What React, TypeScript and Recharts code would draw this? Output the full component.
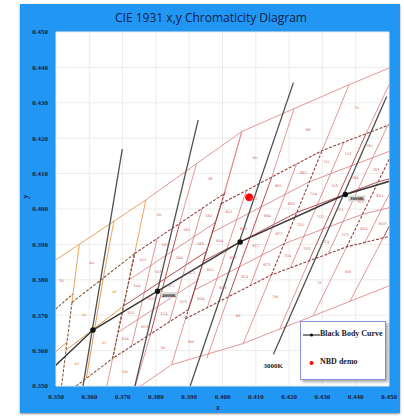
import React from 'react';
import { ComposedChart, Line, XAxis, YAxis, CartesianGrid, ReferenceDot, LabelList } from 'recharts';

type P = { x: number; y: number; name?: string };
const pts = (arr: number[][]): P[] => arr.map(([x, y]) => ({ x, y }));

const xTicks = [0.35, 0.36, 0.37, 0.38, 0.39, 0.4, 0.41, 0.42, 0.43, 0.44, 0.45];
const yTicks = [0.35, 0.36, 0.37, 0.38, 0.39, 0.4, 0.41, 0.42, 0.43, 0.44, 0.45];

// Planckian locus points (5000K, 4500K, 4000K, 3500K, 3000K, 2700K)
const blackBody = [[0.3451, 0.3516], [0.3611, 0.3658], [0.3805, 0.3768], [0.4053, 0.3907], [0.4369, 0.4041], [0.4599, 0.4106]];

// isotherm (CCT) lines
const isotherms = [
  [[0.3581, 0.35], [0.3699, 0.4169]],
  [[0.3737, 0.35], [0.3927, 0.4252]],
  [[0.3903, 0.35], [0.4213, 0.4357]],
  [[0.4153, 0.359], [0.4493, 0.4318]],
];

// ANSI quadrangle corners: bottom-left, bottom-right, top-left, top-right
const quad5000 = [[0.3366, 0.3369], [0.3515, 0.3487], [0.3376, 0.3616], [0.3551, 0.376]];
const quad4500 = [[0.3512, 0.3465], [0.367, 0.3578], [0.3548, 0.3736], [0.3736, 0.3874]];
const quad4000 = [[0.367, 0.3578], [0.3898, 0.3716], [0.3736, 0.3874], [0.4006, 0.4044]];
const quad3500 = [[0.3889, 0.369], [0.4147, 0.3814], [0.3996, 0.4015], [0.4299, 0.4165]];
const quad3000 = [[0.4147, 0.3814], [0.4373, 0.3893], [0.4299, 0.4165], [0.4562, 0.426]];
const quad2700 = [[0.4373, 0.3893], [0.4593, 0.3944], [0.4562, 0.426], [0.4813, 0.4319]];

// ANSI quadrangle outlines (3000K..4000K area)
const ansiRed = [
  [[0.3736, 0.3874], [0.4006, 0.4044], [0.3898, 0.3716], [0.367, 0.3578], [0.3736, 0.3874]],
  [[0.3996, 0.4015], [0.4299, 0.4165], [0.4562, 0.426], [0.4813, 0.4319]],
  [[0.3889, 0.369], [0.4147, 0.3814], [0.4373, 0.3893], [0.4593, 0.3944]],
  [[0.3889, 0.369], [0.3996, 0.4015]],
  [[0.4147, 0.3814], [0.4299, 0.4165]],
  [[0.4373, 0.3893], [0.4562, 0.426]],
];
// ANSI quadrangle outlines (4500K, 5000K)
const ansiOrange = [
  [[0.3548, 0.3736], [0.3736, 0.3874], [0.367, 0.3578], [0.3512, 0.3465], [0.3548, 0.3736]],
  [[0.3376, 0.3616], [0.3551, 0.376]],
];

// main sub-bin boundaries (A/B/C/D)
const midRed = [
  [[0.3943, 0.3853], [0.4223, 0.399], [0.4468, 0.4077], [0.4703, 0.4132]],
  [[0.4018, 0.3752], [0.4148, 0.409]],
  [[0.426, 0.3854], [0.4431, 0.4213]],
  [[0.4483, 0.3919], [0.4688, 0.429]],
  [[0.3703, 0.3726], [0.3952, 0.388]],
  [[0.3784, 0.3647], [0.3871, 0.3959]],
];
// finer sub-bin boundaries
const fineRed = [
  [[0.3916, 0.3771], [0.4185, 0.3902], [0.442, 0.3985], [0.4648, 0.4038]],
  [[0.3969, 0.3934], [0.4261, 0.4077], [0.4515, 0.4168], [0.4758, 0.4225]],
  [[0.3954, 0.3721], [0.4072, 0.4053]],
  [[0.4083, 0.3783], [0.4223, 0.4128]],
  [[0.4204, 0.3834], [0.4365, 0.4189]],
  [[0.4317, 0.3873], [0.4496, 0.4236]],
  [[0.4428, 0.3906], [0.4625, 0.4275]],
  [[0.4538, 0.3931], [0.475, 0.4304]],
  [[0.3687, 0.3652], [0.3925, 0.3798]],
  [[0.372, 0.38], [0.3979, 0.3962]],
  [[0.3727, 0.3613], [0.3804, 0.3917]],
  [[0.3841, 0.3682], [0.3939, 0.4002]],
];
const midOrange = [
  [[0.353, 0.3601], [0.3703, 0.3726]],
  [[0.3591, 0.3522], [0.3642, 0.3805]],
  [[0.3371, 0.3493], [0.3533, 0.3624]],
];

// outer bins above / below the ANSI quadrangles
const outerOrange = [
  [[0.345, 0.3825], [0.377, 0.4026]],
  [[0.3548, 0.3736], [0.357, 0.39]],
  [[0.3642, 0.3805], [0.3674, 0.3966]],
  [[0.3736, 0.3874], [0.377, 0.4026]],
];
const outerRed = [
  [[0.377, 0.4026], [0.4058, 0.4219], [0.438, 0.4351], [0.46, 0.4437]],
  [[0.3871, 0.3959], [0.3922, 0.4128]],
  [[0.4006, 0.4044], [0.4058, 0.4219]],
  [[0.3996, 0.4015], [0.4058, 0.4219]],
  [[0.4148, 0.409], [0.4215, 0.4284]],
  [[0.4299, 0.4165], [0.438, 0.4351]],
  [[0.4431, 0.4213], [0.4529, 0.4409]],
  [[0.363, 0.342], [0.3847, 0.356], [0.4062, 0.362], [0.4272, 0.3698], [0.46, 0.382]],
  [[0.367, 0.3578], [0.3653, 0.35]],
  [[0.3784, 0.3647], [0.3738, 0.35]],
  [[0.3889, 0.369], [0.3847, 0.356]],
  [[0.4018, 0.3752], [0.3953, 0.3578]],
  [[0.4147, 0.3814], [0.4062, 0.362]],
  [[0.426, 0.3854], [0.4172, 0.3661]],
  [[0.4373, 0.3893], [0.4272, 0.3698]],
  [[0.4483, 0.3919], [0.4383, 0.374]],
];

// names of the outer bins and where their labels sit
const outerBinNames = ['3U', '4U', '5U', '5R', '6U', '6R', '7U', '5W', '5X', '6W', '6X', '7W', '7X', '8W'];
const outerBinSpots = [
  [0.3517, 0.3798], [0.3607, 0.3849], [0.381, 0.3985], [0.3963, 0.4087], [0.4098, 0.4144], [0.4257, 0.4223],
  [0.4403, 0.4285], [0.3707, 0.354], [0.3821, 0.3607], [0.3905, 0.3625], [0.4047, 0.37], [0.4158, 0.3752],
  [0.429, 0.3792], [0.4377, 0.3822],
];

const nbdDemo = [[0.408, 0.4033]];

const serif = '"Liberation Serif", "DejaVu Serif", serif';
const tickStyle = { fontFamily: serif, fontWeight: 700, fontSize: 7, fill: '#1c1c3a' };

// bilinear position inside a quadrangle, used only to place bin name labels
const inQuad = (q: number[][], u: number, v: number) => {
  const [bl, br, tl, tr] = q;
  const x = (1 - u) * (1 - v) * bl[0] + u * (1 - v) * br[0] + (1 - u) * v * tl[0] + u * v * tr[0];
  const y = (1 - u) * (1 - v) * bl[1] + u * (1 - v) * br[1] + (1 - u) * v * tl[1] + u * v * tr[1];
  return { x, y };
};
const quadLetter = (right: boolean, top: boolean) => (top ? (right ? 'B' : 'A') : right ? 'C' : 'D');
const subNumber = (right: boolean, top: boolean) => (top ? (right ? '2' : '1') : right ? '3' : '4');
const fineLabels = (q: number[][], prefix: string): P[] => {
  const out: P[] = [];
  for (let c = 0; c < 4; c++) for (let r = 0; r < 4; r++) {
    const p = inQuad(q, (c + 0.5) / 4, (r + 0.5) / 4);
    const name = prefix + quadLetter(c >= 2, r >= 2) + subNumber(c % 2 === 1, r % 2 === 1);
    if (p.x > 0.3515 && p.x < 0.4485 && p.y > 0.3515 && p.y < 0.4485) out.push({ ...p, name });
  }
  return out;
};
const coarseLabels = (q: number[][], prefix: string): P[] => {
  const out: P[] = [];
  for (let c = 0; c < 2; c++) for (let r = 0; r < 2; r++) {
    const p = inQuad(q, (c + 0.5) / 2, (r + 0.5) / 2);
    if (p.x > 0.3515 && p.x < 0.4485 && p.y > 0.3515 && p.y < 0.4485) out.push({ ...p, name: prefix + quadLetter(c === 1, r === 1) });
  }
  return out;
};

const redLabels: P[] = [
  ...fineLabels(quad4000, '5'), ...fineLabels(quad3500, '6'), ...fineLabels(quad3000, '7'), ...fineLabels(quad2700, '8'),
  ...outerBinSpots.map((s, i) => ({ x: s[0], y: s[1], name: outerBinNames[i] })),
];
const orangeLabels: P[] = [...coarseLabels(quad4500, '4'), ...coarseLabels(quad5000, '3')];

const BinText = (fill: string) => (props: any) => (
  <text x={props.x} y={props.y + 1.3} textAnchor="middle" fontFamily="'DejaVu Sans', sans-serif" fontSize={3.6} fill={fill}>{props.value}</text>
);

const CctTag = (props: any) => {
  const { viewBox, value, boxed } = props;
  const cx = viewBox.x + viewBox.width / 2;
  const cy = viewBox.y + viewBox.height / 2;
  return (
    <g>
      {boxed && <rect x={cx + 3} y={cy + 1} width={17} height={6} fill="#d9d9d9" />}
      <text x={boxed ? cx + 11.5 : cx} y={boxed ? cy + 6 : cy + 2.5} textAnchor="middle" fontFamily={serif} fontWeight={700} fontSize={boxed ? 5 : 7} fill="#222">{value}</text>
    </g>
  );
};

const renderSet = (set: number[][][], prefix: string, stroke: string, width: number, dash?: string) =>
  set.map((poly, i) => (
    <Line key={prefix + i} data={pts(poly)} dataKey="y" type="linear" stroke={stroke} strokeWidth={width}
      strokeDasharray={dash} dot={false} activeDot={false} isAnimationActive={false} legendType="none" />
  ));

export default function App() {
  return (
    <div style={{ position: 'absolute', left: 0, top: 0, width: 404, height: 420, background: '#fff' }}>
      <div style={{ position: 'absolute', left: 20, top: 4, width: 380, height: 409, background: '#2196F3', boxShadow: '0 1px 2px rgba(0,0,0,0.45)' }} />
      <ComposedChart width={404} height={420} margin={{ top: 32, right: 15, bottom: 0, left: 0 }}
        style={{ position: 'absolute', left: 0, top: 0 }}>
        <CartesianGrid stroke="#ececec" fill="#ffffff" fillOpacity={1} />
        <XAxis type="number" dataKey="x" domain={[0.35, 0.45]} ticks={xTicks} allowDataOverflow height={34}
          tickFormatter={(v: number) => v.toFixed(3)} tick={tickStyle} tickLine={false} axisLine={false} interval={0} />
        <YAxis type="number" dataKey="y" domain={[0.35, 0.45]} ticks={yTicks} allowDataOverflow width={56}
          tickFormatter={(v: number) => v.toFixed(3)} tick={tickStyle} tickLine={false} axisLine={false} interval={0} />
        <Line data={redLabels} dataKey="y" stroke="none" dot={false} activeDot={false} isAnimationActive={false} legendType="none">
          <LabelList dataKey="name" content={BinText('#d46a6a')} />
        </Line>
        <Line data={orangeLabels} dataKey="y" stroke="none" dot={false} activeDot={false} isAnimationActive={false} legendType="none">
          <LabelList dataKey="name" content={BinText('#e09a55')} />
        </Line>
        {renderSet(outerRed, 'or', '#e28a8a', 0.9)}
        {renderSet(outerOrange, 'oo', '#eaa55e', 1)}
        {renderSet(fineRed, 'fr', '#d87878', 0.8)}
        {renderSet(midRed, 'mr', '#b65050', 1)}
        {renderSet(midOrange, 'mo', '#e39a4f', 1)}
        {renderSet(ansiRed, 'ar', '#9a4040', 1.1, '3 1.5')}
        {renderSet(ansiOrange, 'ao', '#8a5a35', 1.1, '3 1.5')}
        {renderSet(isotherms, 'is', '#505050', 1.3)}
        <Line data={pts(blackBody)} dataKey="y" type="linear" stroke="#3a3a3a" strokeWidth={1.5}
          dot={{ r: 2, fill: '#111', stroke: '#111' }} activeDot={false} isAnimationActive={false} legendType="none" />
        <Line data={pts(nbdDemo)} dataKey="y" stroke="none" dot={{ r: 3.5, fill: '#ff0000', stroke: '#ff0000' }}
          activeDot={false} isAnimationActive={false} legendType="none" />
        <ReferenceDot x={0.3805} y={0.3768} r={0} label={<CctTag value="4000K" boxed />} />
        <ReferenceDot x={0.4369} y={0.4041} r={0} label={<CctTag value="3000K" boxed />} />
        <ReferenceDot x={0.4152} y={0.3557} r={0} label={<CctTag value="3000K" />} />
      </ComposedChart>
      <svg width={404} height={30} style={{ position: 'absolute', left: 0, top: 0 }}>
        <text x={211} y={21.5} textAnchor="middle" textLength={192} lengthAdjust="spacingAndGlyphs"
          fontFamily="'Open Sans', sans-serif" fontSize={13} fill="#0f1f45">CIE 1931 x,y Chromaticity Diagram</text>
      </svg>
      <div style={{ position: 'absolute', left: 216, top: 403, fontFamily: serif, fontStyle: 'italic', fontWeight: 700, fontSize: 8, color: '#1c1c3a' }}>x</div>
      <div style={{ position: 'absolute', left: 24, top: 192, fontFamily: serif, fontStyle: 'italic', fontWeight: 700, fontSize: 8, color: '#1c1c3a', transform: 'rotate(-90deg)' }}>y</div>
      <div style={{ position: 'absolute', left: 300, top: 321, width: 84, height: 57, border: '1px solid #8d8fd6', background: '#fff', boxShadow: '2px 2px 3px rgba(0,0,0,0.35)', fontFamily: serif, fontWeight: 700, fontSize: 8, color: '#222' }}>
        <svg width={20} height={10} style={{ position: 'absolute', left: 1, top: 8 }}>
          <line x1={1} y1={5} x2={18} y2={5} stroke="#333" strokeWidth={1.2} />
          <circle cx={9.5} cy={5} r={1.6} fill="#111" />
        </svg>
        <div style={{ position: 'absolute', left: 19, top: 7, whiteSpace: 'nowrap' }}>Black Body Curve</div>
        <svg width={20} height={10} style={{ position: 'absolute', left: 1, top: 36 }}>
          <circle cx={9.5} cy={5} r={2} fill="#ff0000" />
        </svg>
        <div style={{ position: 'absolute', left: 19, top: 35, whiteSpace: 'nowrap' }}>NBD demo</div>
      </div>
    </div>
  );
}
